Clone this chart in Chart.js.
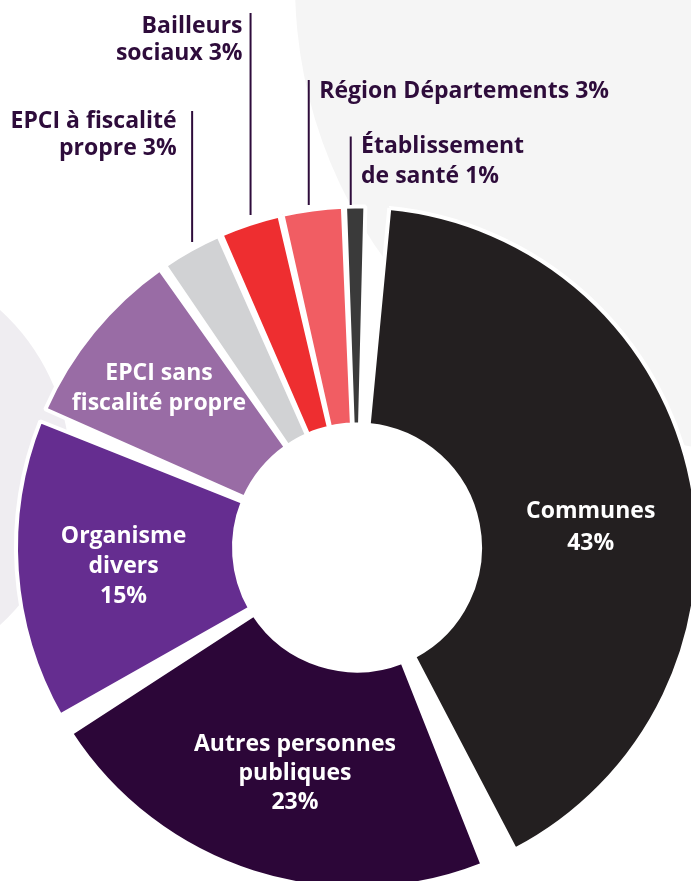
<!DOCTYPE html>
<html><head><meta charset="utf-8">
<script src="https://cdn.jsdelivr.net/npm/chart.js@4.4.1/dist/chart.umd.min.js"></script>
<style>html,body{margin:0;padding:0;background:#fff;overflow:hidden}#wrap{position:relative;width:691px;height:881px}</style>
</head><body><div id="wrap"><canvas id="c"></canvas></div>
<script>
// ---- data ----
const categories = ['Communes','Autres personnes publiques','Organisme divers','EPCI sans fiscalité propre','EPCI à fiscalité propre','Bailleurs sociaux','Région Départements','Établissement de santé'];
const shares = [43, 23, 15, 9, 3, 3, 3, 1];
const sliceColors = ['#231f20','#2c0638','#652d90','#996ca5','#d1d2d4','#ee2e30','#f15d63','#3a3a3a'];
const labelLines = [
  ['Communes','43%'],
  ['Autres personnes','publiques','23%'],
  ['Organisme','divers','15%'],
  ['EPCI sans','fiscalité propre'],
  ['EPCI à fiscalité','propre 3%'],
  ['Bailleurs','sociaux 3%'],
  ['Région Départements 3%'],
  ['Établissement','de santé 1%']
];

// ---- styling / layout ----
const FONT = '"Open Sans", "Noto Sans", sans-serif';
const TEXT_DARK = '#2e0c3b';
const SPACING = 23, BORDER = 4;
const insideCfg = {
  0: {dx: 6, dy: 23, lh: 32},
  1: {dx: 8.5, dy: 3.5, lh: 29},
  2: {dx: -2, dy: 2, lh: 30},
  3: {dx: -18.5, dy: -13.5, lh: 30}
};
const outsideCfg = {
  4: {dx: 0, top: 111, bottom: 242, side: 'left', gap: 15.5, base: 128.3, lh: 27},
  5: {dx: 0, top: 13, bottom: 215, side: 'left', gap: 8, base: 33.3, lh: 27},
  6: {dx: -4, top: 80, bottom: 205, side: 'right', gap: 10.5, base: 98.3, lh: 28},
  7: {dx: -4.5, top: 136.5, bottom: 205, side: 'right', gap: 10.3, base: 153.3, lh: 29.4}
};

const backdrop = {
  id: 'backdrop',
  beforeDraw(chart) {
    const ctx = chart.ctx;
    ctx.save();
    ctx.fillStyle = '#f5f5f5';
    ctx.beginPath(); ctx.arc(763, -16, 468, 0, Math.PI * 2); ctx.fill();
    ctx.fillStyle = '#efedf1';
    ctx.beginPath(); ctx.arc(-142, 467.5, 212, 0, Math.PI * 2); ctx.fill();
    ctx.restore();
  }
};

const sliceLabels = {
  id: 'sliceLabels',
  afterDatasetsDraw(chart) {
    const ctx = chart.ctx;
    const meta = chart.getDatasetMeta(0);
    const sp = SPACING / 2;
    ctx.save();
    meta.data.forEach((arc, i) => {
      const p = arc.getProps(['x','y','startAngle','endAngle','innerRadius','outerRadius'], true);
      const mid = (p.startAngle + p.endAngle) / 2;
      const outerVis = p.outerRadius + sp - BORDER / 2;
      const innerVis = p.innerRadius + sp + BORDER / 2;
      const lines = labelLines[i];
      if (insideCfg[i]) {
        const c = insideCfg[i];
        const rc = (outerVis + innerVis) / 2;
        const cx = p.x + Math.cos(mid) * rc + c.dx;
        const cy = p.y + Math.sin(mid) * rc + c.dy;
        ctx.fillStyle = '#ffffff';
        ctx.font = '700 23px ' + FONT;
        ctx.textAlign = 'center';
        ctx.textBaseline = 'alphabetic';
        lines.forEach((t, k) => {
          ctx.fillText(t, cx, cy + 8.2 + (k - (lines.length - 1) / 2) * c.lh);
        });
      } else if (outsideCfg[i]) {
        const c = outsideCfg[i];
        const lx = p.x + Math.cos(mid) * outerVis + c.dx;
        ctx.strokeStyle = TEXT_DARK;
        ctx.lineWidth = 2;
        ctx.beginPath(); ctx.moveTo(lx, c.top); ctx.lineTo(lx, c.bottom); ctx.stroke();
        ctx.fillStyle = TEXT_DARK;
        ctx.font = '700 23px ' + FONT;
        ctx.textBaseline = 'alphabetic';
        ctx.textAlign = c.side === 'left' ? 'right' : 'left';
        const tx = c.side === 'left' ? lx - c.gap : lx + c.gap;
        lines.forEach((t, k) => ctx.fillText(t, tx, c.base + k * c.lh));
      }
    });
    ctx.restore();
  }
};

new Chart(document.getElementById('c'), {
  type: 'doughnut',
  data: {
    labels: categories,
    datasets: [{
      data: shares,
      backgroundColor: sliceColors,
      borderColor: '#ffffff',
      borderWidth: BORDER,
      spacing: SPACING,
      radius: 329.5,
      cutout: '33.84%',
      clip: false,
      hoverOffset: 0
    }]
  },
  options: {
    responsive: true,
    maintainAspectRatio: false,
    animation: false,
    rotation: 1.5,
    events: [],
    layout: {padding: {left: 23, top: 214, right: 0, bottom: 0}},
    plugins: {legend: {display: false}, tooltip: {enabled: false}}
  },
  plugins: [backdrop, sliceLabels]
});
</script>
</body></html>
